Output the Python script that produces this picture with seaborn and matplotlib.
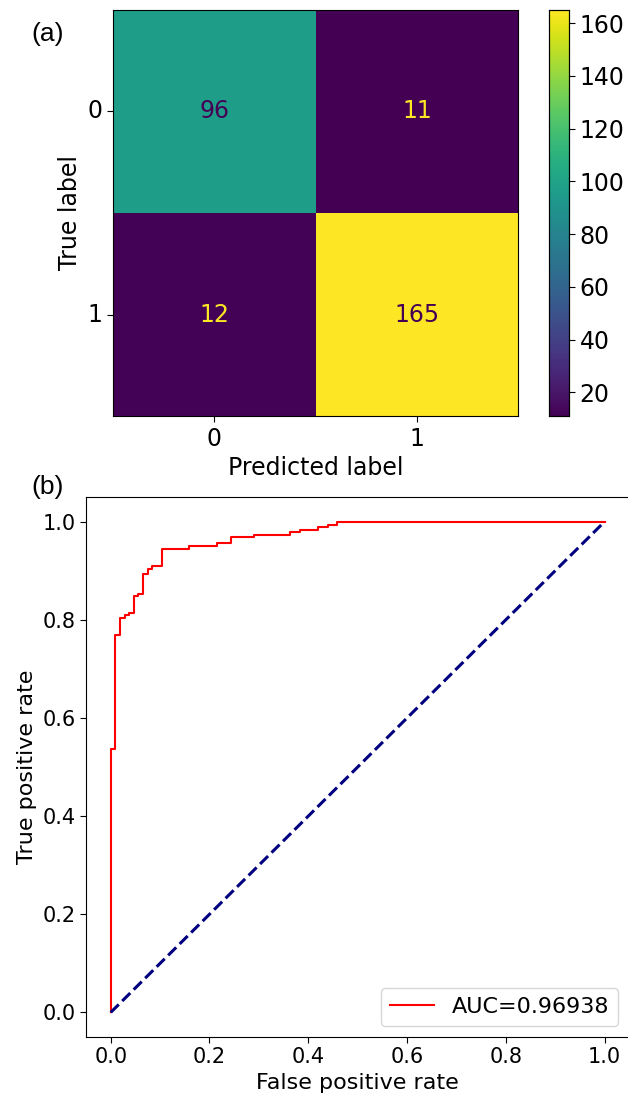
import numpy as np
import pandas as pd
import matplotlib
matplotlib.use("Agg")
import matplotlib.pyplot as plt
import seaborn as sns

# ---- data ----
class_labels = ["0", "1"]
cm_row0 = [96, 11]
cm_row1 = [12, 165]

fpr = [0, 0, 0.0093, 0.0187, 0.028, 0.037, 0.047, 0.056, 0.065, 0.075, 0.084,
       0.103, 0.159, 0.215, 0.243, 0.290, 0.364, 0.383, 0.420, 0.440, 0.458, 1.0]
tpr = [0, 0.537, 0.770, 0.804, 0.809, 0.814, 0.848, 0.853, 0.894, 0.904, 0.910,
       0.944, 0.951, 0.957, 0.968, 0.973, 0.979, 0.984, 0.990, 0.994, 1.0, 1.0]
auc_label = "AUC=0.96938"
diag = [0.0, 1.0]

FS_TOP = 17
FS = 15
FS_LAB = 16
plt.rcParams['font.family'] = ['DejaVu Sans']

fig = plt.figure(figsize=(6.28, 10.95), dpi=100)
ax1 = fig.add_axes([0.180, 0.620, 0.645, 0.371])
cax = fig.add_axes([0.874, 0.620, 0.032, 0.371])
ax2 = fig.add_axes([0.137, 0.053, 0.865, 0.493])

cm = pd.DataFrame([cm_row0, cm_row1], index=class_labels, columns=class_labels)
sns.heatmap(cm, ax=ax1, cbar_ax=cax, cmap="viridis", annot=True, fmt="d",
            annot_kws={"fontsize": FS_TOP})
vals = np.array([cm_row0, cm_row1]).ravel()
thresh = (vals.max() + vals.min()) / 2.0
cmap = plt.get_cmap("viridis")
for t, v in zip(ax1.texts, vals):
    t.set_color(cmap(0.0) if v > thresh else cmap(1.0))
for s in ax1.spines.values():
    s.set_visible(True)
    s.set_linewidth(0.8)
ax1.tick_params(axis="both", labelsize=FS_TOP, length=4, left=True, bottom=True)
ax1.set_yticklabels(class_labels, rotation=0)
ax1.set_xticklabels(class_labels, rotation=0)
ax1.set_xlabel("Predicted label", fontsize=FS_TOP)
ax1.set_ylabel("True label", fontsize=FS_TOP)
cax.tick_params(labelsize=FS_TOP, length=4)
cax.set_yticks([20, 40, 60, 80, 100, 120, 140, 160])
for s in cax.spines.values():
    s.set_visible(True)
    s.set_linewidth(0.8)

roc = pd.DataFrame({"fpr": fpr, "tpr": tpr})
sns.lineplot(data=roc, x="fpr", y="tpr", ax=ax2, color="red", lw=1.5,
             drawstyle="steps-post", sort=False, estimator=None, label=auc_label)
sns.lineplot(x=diag, y=diag, ax=ax2, color="navy", lw=2.2, linestyle="--",
             sort=False, estimator=None)
ax2.set_xlim(-0.05, 1.05)
ax2.set_ylim(-0.05, 1.05)
ax2.set_xticks([0, 0.2, 0.4, 0.6, 0.8, 1.0])
ax2.set_yticks([0, 0.2, 0.4, 0.6, 0.8, 1.0])
ax2.tick_params(labelsize=FS, length=4)
ax2.set_xlabel("False positive rate", fontsize=FS_LAB)
ax2.set_ylabel("True positive rate", fontsize=FS_LAB)
ax2.legend(loc="lower right", fontsize=FS_LAB)

fig.text(0.050, 0.969, "(a)", fontsize=19, family=["Liberation Sans", "DejaVu Sans"], ha="left", va="center")
fig.text(0.050, 0.555, "(b)", fontsize=19, family=["Liberation Sans", "DejaVu Sans"], ha="left", va="center")

fig.savefig("out.png", dpi=100)
